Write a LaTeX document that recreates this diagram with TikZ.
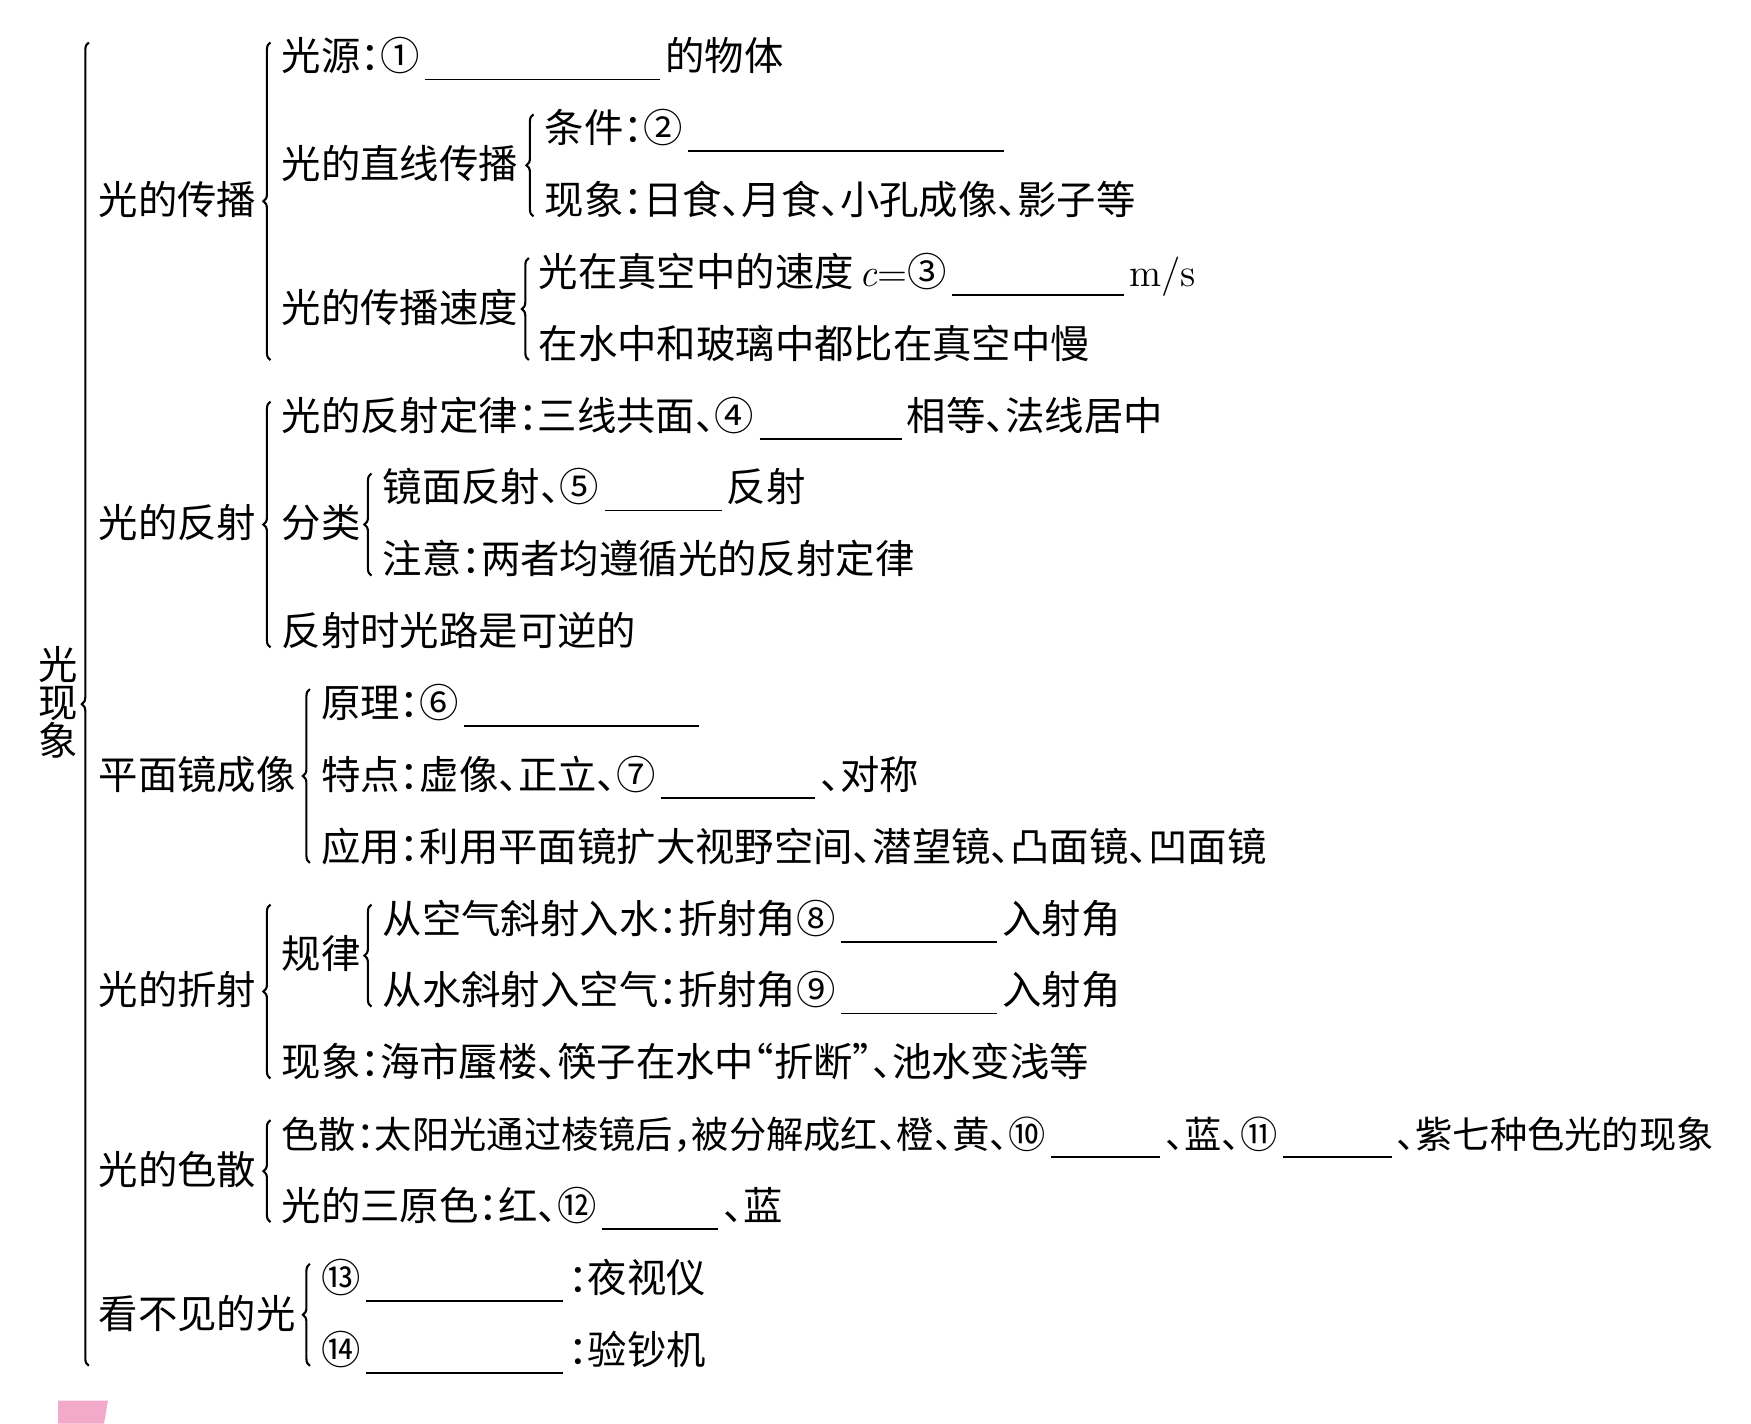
\documentclass[tikz,border=0pt]{standalone}
\usepackage{fontspec}
\newfontfamily\cjk{Noto Sans CJK SC}[RawFeature=+halt]
\usepackage{tikz}
\usetikzlibrary{calc, decorations.pathreplacing}
\definecolor{pinkmark}{HTML}{F2A9CA}
\newcommand{\blank}[1]{\hspace{1.5pt}\rule[-0.24em]{#1}{0.5pt}\hspace{1.5pt}}

\begin{document}
\begin{tikzpicture}[x=0.01cm, y=-0.718cm,
				leaf/.style={anchor=west, inner sep=0pt, text height=9.9pt, text depth=1.3pt, font=\cjk\fontsize{11.2pt}{12pt}\selectfont},
				head/.style={leaf},
				brc/.style={decorate, decoration={brace, amplitude=2pt}, line width=0.6pt}
			]
			\useasboundingbox (0,-0.777) rectangle (1751,19.04);

			% Root
			\node[font=\cjk\fontsize{11.2pt}{10.8pt}\selectfont, align=center, inner sep=0pt] (root) at (58,9) {光\\现\\象};

			% Propagation
			\node[head] (prop) at (98,2) {光的传播};
			\node[leaf] (src) at (281,0) {光源：①\blank{2.35cm}的物体};
			\node[leaf] (stl) at (281,1.5) {光的直线传播};
			\node[leaf] (cond) at (544,1) {条件：②\blank{3.16cm}};
			\node[leaf] (shad) at (544,2) {现象：日食、月食、小孔成像、影子等};
			\node[leaf] (spd) at (281,3.5) {光的传播速度};
			\node[leaf] (vac) at (538,3) {光在真空中的速度\hspace{1.5pt}{\normalfont\textit{c}=}③\blank{1.72cm}{\normalfont m/s}};
			\node[leaf] (slow) at (538,4) {在水中和玻璃中都比在真空中慢};

			% Reflection
			\node[head] (refl) at (98,6.5) {光的反射};
			\node[leaf] (law) at (281,5) {光的反射定律：三线共面、④\blank{1.42cm}相等、法线居中};
			\node[leaf] (kind) at (281,6.5) {分类};
			\node[leaf] (spec) at (382,6) {镜面反射、⑤\blank{1.17cm}反射};
			\node[leaf] (note) at (382,7) {注意：两者均遵循光的反射定律};
			\node[leaf] (rev) at (281,8) {反射时光路是可逆的};

			% Plane mirror
			\node[head] (plane) at (98,10) {平面镜成像};
			\node[leaf] (prin) at (320.5,9) {原理：⑥\blank{2.35cm}};
			\node[leaf] (feat) at (320.5,10) {特点：虚像、正立、⑦\blank{1.54cm}、对称};
			\node[leaf] (appl) at (320.5,11) {应用：利用平面镜扩大视野空间、潜望镜、凸面镜、凹面镜};

			% Refraction
			\node[head] (refr) at (98,13) {光的折射};
			\node[leaf] (rul) at (281,12.5) {规律};
			\node[leaf] (a2w) at (382,12) {从空气斜射入水：折射角⑧\blank{1.56cm}入射角};
			\node[leaf] (w2a) at (382,13) {从水斜射入空气：折射角⑨\blank{1.56cm}入射角};
			\node[leaf] (mir) at (281,14) {现象：海市蜃楼、筷子在水中“折断”、池水变浅等};

			% Dispersion
			\node[head] (colr) at (98,15.5) {光的色散};
			\node[leaf, font=\cjk\fontsize{10.6pt}{12pt}\selectfont] (disp) at (281,15) {色散：太阳光通过棱镜后，被分解成红、橙、黄、⑩\blank{1.09cm}、蓝、⑪\blank{1.09cm}、紫七种色光的现象};
			\node[leaf] (prim) at (281,16) {光的三原色：红、⑫\blank{1.16cm}、蓝};

			% Invisible light
			\node[head] (invis) at (98,17.5) {看不见的光};
			\node[leaf] (ir) at (320.5,17) {⑬\blank{1.97cm}：夜视仪};
			\node[leaf] (uv) at (320.5,18) {⑭\blank{1.97cm}：验钞机};

			% Braces
			\draw[brc] ($(prop.west |- uv.south)+(-2.6pt,1pt)$) -- ($(prop.west |- src.north)+(-2.6pt,-2pt)$);
			\draw[brc] ($(src.west |- slow.south)+(-3pt,1pt)$) -- ($(src.north west)+(-3pt,-2pt)$);
			\draw[brc] ($(shad.south west)+(-3pt,1pt)$) -- ($(cond.north west)+(-3pt,-2pt)$);
			\draw[brc] ($(slow.south west)+(-2.6pt,1pt)$) -- ($(vac.north west)+(-2.6pt,-2pt)$);
			\draw[brc] ($(rev.south west)+(-3pt,1pt)$) -- ($(law.north west)+(-3pt,-2pt)$);
			\draw[brc] ($(note.south west)+(-3pt,1pt)$) -- ($(spec.north west)+(-3pt,-2pt)$);
			\draw[brc] ($(appl.south west)+(-3pt,1pt)$) -- ($(prin.north west)+(-3pt,-2pt)$);
			\draw[brc] ($(mir.south west)+(-3pt,1pt)$) -- ($(mir.west |- a2w.north)+(-3pt,-2pt)$);
			\draw[brc] ($(w2a.south west)+(-3pt,1pt)$) -- ($(a2w.north west)+(-3pt,-2pt)$);
			\draw[brc] ($(prim.south west)+(-3pt,1pt)$) -- ($(disp.north west)+(-3pt,-2pt)$);
			\draw[brc] ($(uv.south west)+(-3pt,1pt)$) -- ($(ir.north west)+(-3pt,-2pt)$);

			% Page mark
			\fill[pinkmark] (58,18.72) -- (108,18.72) -- (104,19.04) -- (58,19.04) -- cycle;
		\end{tikzpicture}
\end{document}
